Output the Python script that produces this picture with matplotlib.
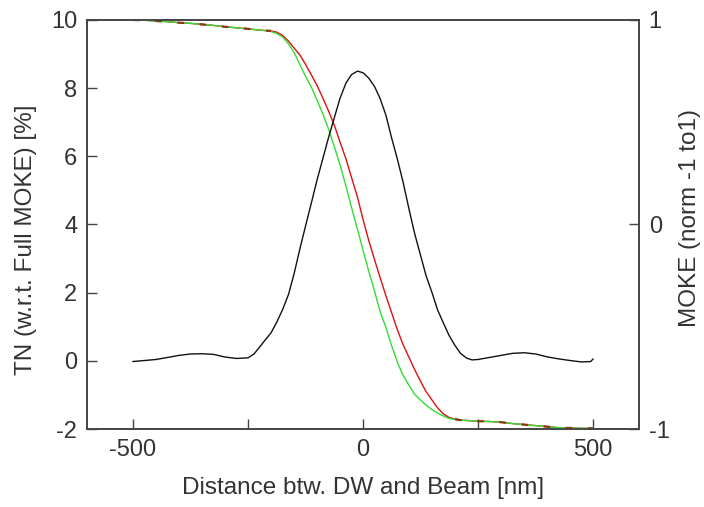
import numpy as np
import matplotlib.pyplot as plt

plt.rcParams['font.family'] = ['Liberation Sans', 'DejaVu Sans']
plt.rcParams['axes.unicode_minus'] = False

# posicion (nm) para las curvas TN
x_tn = [-500, -475, -450, -425, -400, -375, -350, -325, -300, -275, -250,
        -237, -225, -212, -200, -187, -175, -162, -150, -137, -125, -112, -100,
        -87, -75, -62, -50, -37, -25, -12, 0, 12, 25, 37, 50, 62, 75, 87, 100,
        112, 125, 137, 150, 162, 175, 187, 200, 212, 225, 237, 250,
        275, 300, 325, 350, 375, 400, 425, 450, 475, 500]
# TN (%) curva roja
tn_red = [10.0, 9.99, 9.97, 9.95, 9.92, 9.9, 9.87, 9.84, 9.8, 9.77, 9.74,
          9.72, 9.70, 9.69, 9.68, 9.64, 9.55, 9.38, 9.18, 8.97, 8.7, 8.38, 8.08,
          7.7, 7.33, 6.9, 6.42, 5.92, 5.38, 4.8, 4.15, 3.55, 2.97, 2.45, 1.9,
          1.42, 0.9, 0.48, 0.1, -0.25, -0.6, -0.9, -1.15, -1.38, -1.56, -1.66,
          -1.71, -1.74, -1.75, -1.76, -1.77,
          -1.78, -1.8, -1.84, -1.87, -1.9, -1.93, -1.96, -1.97, -1.98, -1.98]
# TN (%) curva verde
tn_green = [10.0, 9.99, 9.97, 9.95, 9.92, 9.9, 9.87, 9.84, 9.8, 9.77, 9.74,
            9.72, 9.70, 9.69, 9.66, 9.6, 9.5, 9.3, 9.05, 8.68, 8.35, 8.02, 7.65,
            7.23, 6.8, 6.27, 5.75, 5.12, 4.5, 3.85, 3.25, 2.65, 2.05, 1.45, 0.97,
            0.45, -0.05, -0.42, -0.72, -0.98, -1.15, -1.3, -1.43, -1.53, -1.62,
            -1.69, -1.72, -1.74, -1.75, -1.76, -1.77,
            -1.78, -1.8, -1.84, -1.87, -1.9, -1.93, -1.96, -1.97, -1.98, -1.98]

# perfil MOKE (normalizado -1 a 1)
x_moke = [-500, -475, -450, -425, -400, -375, -350, -325, -300, -275, -250,
          -237, -225, -212, -200, -187, -175, -162, -150, -137, -125, -112, -100,
          -87, -75, -62, -50, -37, -25, -12, 0, 12, 25, 37, 50, 62, 75, 87, 100,
          112, 125, 137, 150, 162, 175, 187, 200, 212, 225, 237,
          250, 275, 300, 325, 350, 375, 400, 425, 450, 475, 495, 500]
moke = [-0.670, -0.665, -0.660, -0.650, -0.640, -0.633, -0.632, -0.635, -0.648,
        -0.655, -0.652,
        -0.633, -0.600, -0.563, -0.530, -0.475, -0.417, -0.342, -0.242, -0.117,
        -0.008, 0.108, 0.217, 0.325, 0.425, 0.525, 0.617, 0.692, 0.733, 0.750,
        0.742, 0.717, 0.675, 0.617, 0.533, 0.425, 0.317, 0.208, 0.075, -0.042,
        -0.150, -0.250, -0.333, -0.417, -0.483, -0.542, -0.592, -0.630, -0.653,
        -0.662,
        -0.660, -0.650, -0.640, -0.630, -0.627, -0.633, -0.647, -0.657, -0.665,
        -0.672, -0.670, -0.658]

txt = '#333333'
fig = plt.figure(figsize=(7.04, 5.07), dpi=100)
ax = fig.add_axes([0.1236, 0.1538, 0.7841, 0.8068])
ax2 = ax.twinx()

ax.plot(x_tn, tn_red, color='#dd1111', lw=1.0, zorder=2)
ax.plot(x_tn, tn_green, color='#33dd33', lw=1.0, zorder=3)
# trazos donde las dos curvas coinciden
red = np.array(tn_red)
grn = np.array(tn_green)
overlap = np.where(np.abs(red - grn) < 0.03, red, np.nan)
ax.plot(x_tn, overlap, color='#8f3418', lw=1.6, dashes=(3, 7), zorder=4)

ax2.plot(x_moke, moke, color='#111111', lw=1.0)

ax.set_xlim(-600, 600)
ax.set_ylim(-2, 10)
ax2.set_ylim(-1, 1)

ax.set_xticks([-500, 0, 500])
ax.set_xticks([-250, 250], minor=True)
ax.set_yticks([-2, 0, 2, 4, 6, 8, 10])
ax2.set_yticks([-1, 0, 1])

for a in (ax, ax2):
    a.tick_params(which='both', direction='in', length=7, width=1,
                  labelsize=17, labelcolor=txt, color='#444444', pad=7)
    for s in a.spines.values():
        s.set_color('#444444')
        s.set_linewidth(1.2)
ax.tick_params(top=False, right=False)

ax.set_xlabel('Distance btw. DW and Beam [nm]', fontsize=17.5, color=txt, labelpad=12)
ax.set_ylabel('TN (w.r.t. Full MOKE) [%]', fontsize=17.5, color=txt, labelpad=10)
ax2.set_ylabel('MOKE (norm -1 to1)', fontsize=17.5, color=txt, labelpad=7)
ax.yaxis.label.set_y(0.462)
ax2.yaxis.label.set_y(0.515)

fig.savefig('out.png', dpi=100)
